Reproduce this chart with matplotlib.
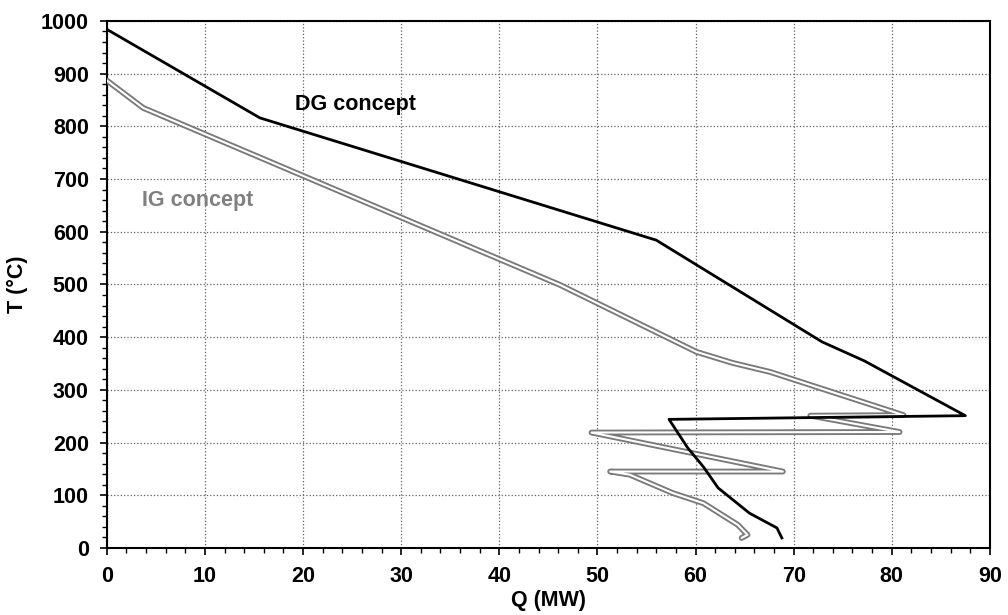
import matplotlib
matplotlib.use("Agg")
import matplotlib.pyplot as plt
from matplotlib.ticker import MultipleLocator

plt.rcParams['font.family'] = ['Liberation Sans', 'DejaVu Sans']
plt.rcParams['font.weight'] = 'bold'

# DG concept (black line)
dg_q = [0, 15.6, 56.0, 72.9, 77.2, 87.5, 57.3, 59.2, 60.8, 62.3, 65.5, 68.3, 68.8]
dg_t = [984, 816, 584, 391, 355, 251, 244, 190, 154, 114, 66, 38, 19]

# IG concept (grey double line)
ig_q = [0, 3.7, 46.2, 60.1, 63.8, 67.6, 81.2, 71.7, 80.8, 49.4, 68.9, 51.3,
        53.3, 57.7, 60.8, 64.3, 65.3, 64.7]
ig_t = [887, 835, 499, 372, 351, 334, 252, 251, 220, 219, 145, 145,
        139, 104, 85, 44, 25, 19]

fig = plt.figure(figsize=(10.08, 6.15), dpi=100)
ax = fig.add_axes([0.106, 0.109, 0.876, 0.857])

# grey outline with white core gives the double-line look
ax.plot(ig_q, ig_t, color='#7a7a7a', lw=4.2, solid_joinstyle='round',
        solid_capstyle='round', zorder=3)
ax.plot(ig_q, ig_t, color='white', lw=1.5, solid_joinstyle='round',
        solid_capstyle='round', zorder=4)
ax.plot(dg_q, dg_t, color='black', lw=2.0, zorder=5)

ax.text(19.2, 841, 'DG concept', fontsize=15.5, fontweight='bold',
        color='black', va='center')
ax.text(3.6, 660, 'IG concept', fontsize=15.5, fontweight='bold',
        color='#808080', va='center')

ax.set_xlim(0, 90)
ax.set_ylim(0, 1000)
ax.xaxis.set_major_locator(MultipleLocator(10))
ax.xaxis.set_minor_locator(MultipleLocator(2))
ax.yaxis.set_major_locator(MultipleLocator(100))
ax.yaxis.set_minor_locator(MultipleLocator(20))
ax.tick_params(which='major', direction='out', length=5, width=1.2,
               labelsize=15.5, pad=8)
ax.tick_params(which='minor', direction='out', length=3.5, width=1)
for lab in ax.get_xticklabels() + ax.get_yticklabels():
    lab.set_fontweight('bold')

ax.grid(True, which='major', color='#606060', linestyle=':', lw=0.9)
ax.set_axisbelow(True)
for s in ax.spines.values():
    s.set_linewidth(1.5)
    s.set_color('black')

ax.set_xlabel('Q (MW)', fontsize=15.5, fontweight='bold', va='center')
ax.set_ylabel('T (°C)', fontsize=15.5, fontweight='bold', va='center')
ax.xaxis.set_label_coords(0.5, -0.1006)
ax.yaxis.set_label_coords(-0.1016, 0.5)

fig.savefig('out.png', dpi=100)
